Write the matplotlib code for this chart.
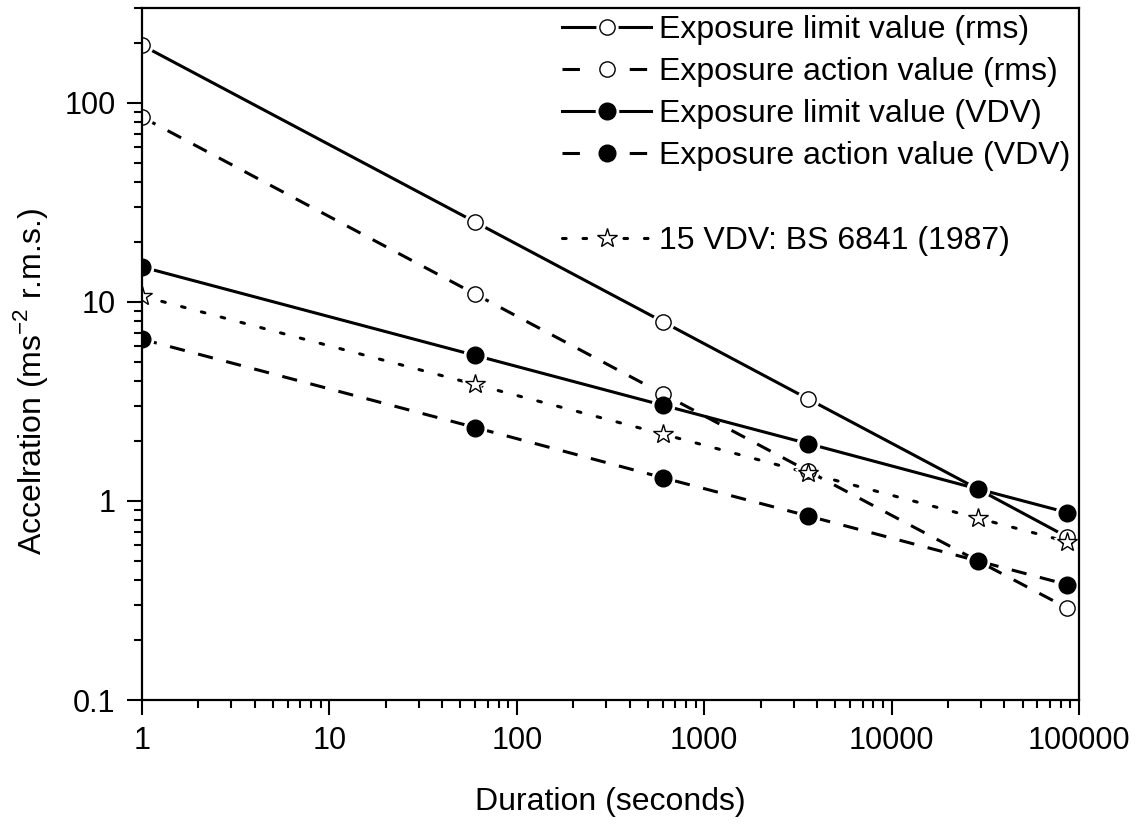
import matplotlib
matplotlib.use('Agg')
import matplotlib.pyplot as plt
from matplotlib.lines import Line2D
from matplotlib.ticker import FixedLocator, LogLocator, NullFormatter, FuncFormatter
from matplotlib.legend_handler import HandlerTuple

plt.rcParams['font.family'] = ['Liberation Sans', 'DejaVu Sans']

# durations (s) and accelerations
duration = [1, 60, 600, 3600, 28800, 86400]
elv_rms = [195, 25.2, 7.97, 3.25, 1.15, 0.66]
eav_rms = [85, 10.95, 3.46, 1.41, 0.5, 0.29]
elv_vdv = [15, 5.39, 3.03, 1.94, 1.15, 0.875]
eav_vdv = [6.5, 2.34, 1.31, 0.84, 0.5, 0.38]
bs_vdv = [10.7, 3.85, 2.17, 1.38, 0.82, 0.625]

labels = [
    "Exposure limit value (rms)",
    "Exposure action value (rms)",
    "Exposure limit value (VDV)",
    "Exposure action value (VDV)",
    "15 VDV: BS 6841 (1987)",
]

fig = plt.figure(figsize=(11.44, 8.25), dpi=100)
ax = fig.add_axes([0.1241, 0.1515, 0.8191, 0.8388])

LW = 2.2
dash = (0, (5, 4.5))
dot = (0, (1.2, 5.5))
# legend keys in the original only show one short dash each side of the marker
leg_dash = (0, (5.7, 16.3))

series = [
    (elv_rms, '-', '-', 'o', 'white', 11),
    (eav_rms, dash, leg_dash, 'o', 'white', 11),
    (elv_vdv, '-', '-', 'o', 'black', 12),
    (eav_vdv, dash, leg_dash, 'o', 'black', 12),
    (bs_vdv, dot, dot, '*', 'white', 15),
]

handles = []
for ys, ls, lls, mk, fc, ms in series:
    cap = 'round' if ls is dot else 'butt'
    ax.plot(duration, ys, color='black', lw=LW, linestyle=ls,
            dash_capstyle=cap, zorder=2)
    halo, = ax.plot(duration, ys, linestyle='none', marker=mk, ms=ms + 4,
                    mfc='white', mec='white', zorder=3)
    mrk, = ax.plot(duration, ys, linestyle='none', marker=mk, ms=ms,
                   mfc=fc, mec='black', mew=1.0, zorder=4)
    # markers sitting on the left axis are cut in half in the original
    halo.set_clip_path(ax.patch)
    mrk.set_clip_path(ax.patch)
    key = Line2D([], [], color='black', lw=LW, linestyle=lls, dash_capstyle=cap)
    handles.append((key, halo, mrk))

blank = Line2D([], [], color='none')
leg_handles = handles[:4] + [blank] + handles[4:]
leg_labels = labels[:4] + [' '] + labels[4:]

ax.set_xscale('log')
ax.set_yscale('log')
ax.set_xlim(1, 100000)
ax.set_ylim(0.1, 300)

ax.xaxis.set_major_locator(FixedLocator([1, 10, 100, 1000, 10000, 100000]))
ax.yaxis.set_major_locator(FixedLocator([0.1, 1, 10, 100]))
ax.xaxis.set_minor_locator(LogLocator(base=10, subs=range(2, 10), numticks=20))
ax.yaxis.set_minor_locator(LogLocator(base=10, subs=range(2, 10), numticks=20))
ax.xaxis.set_minor_formatter(NullFormatter())
ax.yaxis.set_minor_formatter(NullFormatter())
ax.xaxis.set_major_formatter(FuncFormatter(lambda v, p: '%d' % round(v)))
ax.yaxis.set_major_formatter(FuncFormatter(lambda v, p: ('%g' % v) if v >= 1 else '%.1f' % v))

ax.tick_params(which='major', direction='out', length=11, width=1.5,
               labelsize=22, pad=8, top=False, right=False)
ax.tick_params(which='minor', direction='out', length=6, width=1.5,
               top=False, right=False)
for sp in ax.spines.values():
    sp.set_linewidth(1.6)
    sp.set_zorder(5)

ax.set_xlabel("Duration (seconds)", fontsize=23, labelpad=22)
ax.set_ylabel("Accelration (ms$^{\\mathregular{-2}}$ r.m.s.)", fontsize=23)
ax.yaxis.set_label_coords(-0.098, 0.46)

ax.legend(leg_handles, leg_labels, loc='upper left', bbox_to_anchor=(0.4408, 1.0),
          frameon=False, fontsize=23, handlelength=2.8, handletextpad=0.25,
          labelspacing=0.38, borderaxespad=0, borderpad=0.22,
          handler_map={tuple: HandlerTuple(ndivide=1)})

fig.savefig('out.png', dpi=100, facecolor='white')
